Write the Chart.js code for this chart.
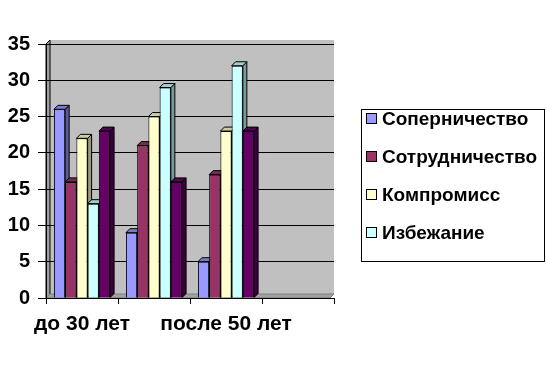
<!DOCTYPE html>
<html>
<head>
<meta charset="utf-8">
<script src="https://cdn.jsdelivr.net/npm/chart.js@4/dist/chart.umd.min.js"></script>
<style>
  body { margin: 0; background: #fff; }
  #wrap { position: relative; width: 546px; height: 370px; }
  #legend {
    position: absolute; left: 361px; top: 109px; width: 182px; height: 151px;
    border: 1px solid #000; background: #fff;
    font-family: Arial, "Liberation Sans", sans-serif; font-weight: bold; font-size: 19px;
  }
  .item { position: absolute; left: 4px; height: 22px; line-height: 22px; white-space: nowrap; }
  .item span.box { display: inline-block; width: 9px; height: 9px; border: 1px solid #000; margin-right: 5px; vertical-align: 1px; }
</style>
</head>
<body>
<div id="wrap">
  <canvas id="chart" width="546" height="370"></canvas>
  <div id="legend"></div>
</div>
<script>
  var categories = ['до 30 лет', '30-50 лет', 'после 50 лет', ''];
  var seriesNames = ['Соперничество', 'Сотрудничество', 'Компромисс', 'Избежание', 'Приспособление'];
  var sopernichestvo = [26, 9, 5, null];
  var sotrudnichestvo = [16, 21, 17, null];
  var kompromiss = [22, 25, 23, null];
  var izbezhanie = [13, 29, 32, null];
  var prisposoblenie = [23, 16, 23, null];
  var colors = ['#9999FF', '#993366', '#FFFFCC', '#CCFFFF', '#660066'];
  var inLegend = [true, true, true, true, false];
  var depth = 4;

  function shade(hex, f) {
      var n = parseInt(hex.slice(1), 16);
      var r = Math.round(((n >> 16) & 255) * f);
      var g = Math.round(((n >> 8) & 255) * f);
      var b = Math.round((n & 255) * f);
      return 'rgb(' + r + ',' + g + ',' + b + ')';
  }

  // gray walls and floor behind the bars
  var wallPlugin = {
      id: 'walls',
      beforeDraw: function(chart) {
          var a = chart.chartArea, ctx = chart.ctx;
          ctx.save();
          ctx.fillStyle = '#C0C0C0';
          ctx.fillRect(a.left + depth, a.top - depth, a.right - a.left - depth, a.bottom - a.top);
          // left side wall
          ctx.fillStyle = '#A0A0A0';
          ctx.beginPath();
          ctx.moveTo(a.left, a.top);
          ctx.lineTo(a.left + depth, a.top - depth);
          ctx.lineTo(a.left + depth, a.bottom - depth);
          ctx.lineTo(a.left, a.bottom);
          ctx.closePath();
          ctx.fill();
          ctx.strokeStyle = '#000';
          ctx.lineWidth = 1;
          ctx.stroke();
          // floor
          ctx.fillStyle = '#A0A0A0';
          ctx.beginPath();
          ctx.moveTo(a.left, a.bottom);
          ctx.lineTo(a.left + depth, a.bottom - depth);
          ctx.lineTo(a.right, a.bottom - depth);
          ctx.lineTo(a.right - depth, a.bottom);
          ctx.closePath();
          ctx.fill();
          ctx.strokeStyle = '#808080';
          ctx.stroke();
          ctx.restore();
      },
      beforeDatasetsDraw: function(chart) {
          var ctx = chart.ctx;
          ctx.save();
          ctx.strokeStyle = '#000';
          ctx.lineWidth = 1;
          chart.data.datasets.forEach(function(ds, di) {
              chart.getDatasetMeta(di).data.forEach(function(bar, i) {
                  if (ds.data[i] === null) return;
                  var p = bar.getProps(['x', 'y', 'base', 'width'], true);
                  var l = p.x - p.width / 2, r = p.x + p.width / 2;
                  // side face
                  ctx.fillStyle = shade(colors[di], 0.6);
                  ctx.beginPath();
                  ctx.moveTo(r, p.y);
                  ctx.lineTo(r + depth, p.y - depth);
                  ctx.lineTo(r + depth, p.base - depth);
                  ctx.lineTo(r, p.base);
                  ctx.closePath();
                  ctx.fill();
                  ctx.stroke();
                  // top face
                  ctx.fillStyle = shade(colors[di], 0.8);
                  ctx.beginPath();
                  ctx.moveTo(l, p.y);
                  ctx.lineTo(l + depth, p.y - depth);
                  ctx.lineTo(r + depth, p.y - depth);
                  ctx.lineTo(r, p.y);
                  ctx.closePath();
                  ctx.fill();
                  ctx.stroke();
              });
          });
          ctx.restore();
      }
  };

  var seriesData = [sopernichestvo, sotrudnichestvo, kompromiss, izbezhanie, prisposoblenie];
  var datasets = [];
  for (var i = 0; i < seriesNames.length; i++) {
      datasets.push({
          label: seriesNames[i],
          data: seriesData[i],
          backgroundColor: colors[i],
          borderColor: '#000',
          borderWidth: 1,
          categoryPercentage: 0.78,
          barPercentage: 1.0
      });
  }

  var fontFamily = 'Arial, "Liberation Sans", sans-serif';

  var config = {
      type: 'bar',
      data: { labels: categories, datasets: datasets },
      plugins: [wallPlugin],
      options: {
          responsive: false,
          animation: false,
          layout: { padding: { top: 44, right: 212, left: 0, bottom: 0 } },
          plugins: { legend: { display: false }, tooltip: { enabled: false } },
          scales: {
              x: {
                  grid: { display: true, drawOnChartArea: false, color: '#000', tickLength: 6, offset: true },
                  border: { color: '#000' },
                  ticks: {
                      color: '#000', font: { family: fontFamily, size: 21, weight: 'bold' },
                      autoSkip: false, maxRotation: 0, padding: 8,
                      callback: function(v, i) { return i % 2 === 0 ? this.getLabelForValue(v) : ''; }
                  },
                  afterFit: function(s) { s.height = 72; }
              },
              y: {
                  min: 0, max: 35,
                  ticks: { stepSize: 5, color: '#000', font: { family: fontFamily, size: 20, weight: 'bold' }, padding: 8 },
                  grid: { color: '#000', tickLength: 8 },
                  border: { color: '#000' },
                  afterFit: function(s) { s.width = 46; }
              }
          }
      }
  };

  var legendDiv = document.getElementById('legend');
  var tops = [-2, 36, 74, 112];
  var k = 0;
  for (var j = 0; j < seriesNames.length; j++) {
      if (!inLegend[j]) continue;
      var item = document.createElement('div');
      item.className = 'item';
      item.style.top = tops[k] + 'px';
      item.innerHTML = '<span class="box" style="background:' + colors[j] + '"></span>' + seriesNames[j];
      legendDiv.appendChild(item);
      k++;
  }

  window.onload = function() {
      var ctx = document.getElementById('chart').getContext('2d');
      window.myBar = new Chart(ctx, config);
  };
</script>
</body>
</html>
